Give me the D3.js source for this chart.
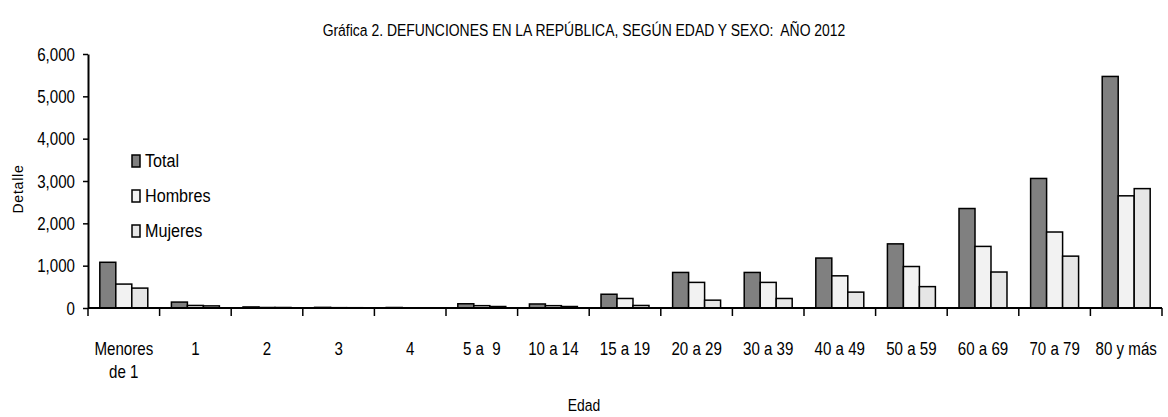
<!DOCTYPE html>
<html>
<head>
<meta charset="utf-8">
<script src="https://cdn.jsdelivr.net/npm/d3@7"></script>
<style>
  html, body { margin: 0; padding: 0; background: #fff; }
  svg { display: block; }
  text { font-family: "Liberation Sans Narrow", "Arial Narrow", "Liberation Sans", Arial, sans-serif; fill: #000; }
</style>
</head>
<body>
<svg id="chart" width="1168" height="417"></svg>
<script>
const categories = ["Menores de 1", "1", "2", "3", "4", "5 a  9", "10 a 14", "15 a 19", "20 a 29", "30 a 39", "40 a 49", "50 a 59", "60 a 69", "70 a 79", "80 y más"];
const seriesNames = ["Total", "Hombres", "Mujeres"];
const totalValues   = [1080, 140, 25, 15, 12, 100, 95, 325, 840, 840, 1180, 1515, 2350, 3060, 5470];
const hombresValues = [565, 60, 12, 8, 6, 55, 55, 225, 605, 605, 760, 980, 1455, 1795, 2650];
const mujeresValues = [470, 50, 12, 7, 6, 35, 35, 60, 185, 225, 375, 505, 850, 1225, 2820];
const yTicks = [0, 1000, 2000, 3000, 4000, 5000, 6000];
const colors = { "Total": "#808080", "Hombres": "#f2f2f2", "Mujeres": "#e6e6e6" };

const valuesBySeries = { "Total": totalValues, "Hombres": hombresValues, "Mujeres": mujeresValues };

const svg = d3.select("#chart");
const mLeft = 88, mRight = 1162, mTop = 54, mBottom = 308;
const SX = 0.83; // horizontal condensing to imitate a narrow font

const x0 = d3.scaleBand().domain(categories).range([mLeft, mRight]).padding(0);
const bw = x0.bandwidth();
const x1 = d3.scaleBand().domain(seriesNames).range([bw * 0.165, bw * 0.835]).padding(0);
const y = d3.scaleLinear().domain([0, 6000]).range([mBottom, mTop]);

function narrowText(parent, x, yy, str, size, anchor, sx) {
  return parent.append("text")
    .attr("transform", `translate(${x},${yy}) scale(${sx},1)`)
    .attr("text-anchor", anchor)
    .style("font-size", size + "px")
    .style("white-space", "pre")
    .text(str);
}

// Title
narrowText(svg, 584, 36, "Gráfica 2. DEFUNCIONES EN LA REPÚBLICA, SEGÚN EDAD Y SEXO:  AÑO 2012", 17, "middle", 0.82);

// Bars
const groups = svg.append("g").selectAll("g")
  .data(categories)
  .join("g")
  .attr("transform", d => `translate(${x0(d)},0)`);

groups.selectAll("rect")
  .data((c, i) => seriesNames.map(s => ({ s, v: valuesBySeries[s][i] })))
  .join("rect")
  .attr("x", d => x1(d.s))
  .attr("width", x1.bandwidth())
  .attr("y", d => y(d.v))
  .attr("height", d => y(0) - y(d.v))
  .attr("fill", d => colors[d.s])
  .attr("stroke", "#000")
  .attr("stroke-width", 1.5);

// Y axis
const yAxis = d3.axisLeft(y).tickValues(yTicks).tickFormat(d3.format(",")).tickSize(5).tickSizeOuter(0).tickPadding(8);
const gy = svg.append("g").attr("transform", `translate(${mLeft},0)`).call(yAxis);
gy.attr("font-family", null).attr("font-size", null);
gy.select(".domain").attr("stroke", "#000").attr("stroke-width", 2);
gy.selectAll(".tick line").attr("stroke", "#000").attr("stroke-width", 1.5);
gy.selectAll(".tick text")
  .attr("x", 0)
  .attr("dy", "0.35em")
  .attr("transform", `translate(-13,0) scale(${SX + 0.01},1)`)
  .style("font-size", "18px");

// X axis baseline + boundary ticks
const gx = svg.append("g");
gx.append("line").attr("x1", mLeft).attr("x2", mRight).attr("y1", y(0)).attr("y2", y(0))
  .attr("stroke", "#000").attr("stroke-width", 2);
const boundaries = categories.map(c => x0(c)).concat([x0(categories[categories.length - 1]) + bw]);
gx.selectAll("line.bt").data(boundaries).join("line").attr("class", "bt")
  .attr("x1", d => d).attr("x2", d => d)
  .attr("y1", y(0)).attr("y2", y(0) + 8)
  .attr("stroke", "#000").attr("stroke-width", 1.5);

// X labels
categories.forEach(c => {
  const cx = x0(c) + bw / 2;
  if (c === "Menores de 1") {
    narrowText(gx, cx, 355, "Menores", 18, "middle", SX + 0.01);
    narrowText(gx, cx, 378, "de 1", 18, "middle", SX + 0.01);
  } else {
    narrowText(gx, cx, 355, c, 18, "middle", SX + 0.01);
  }
});

// Axis titles
narrowText(svg, 584, 411, "Edad", 17, "middle", 0.82);
svg.append("text")
  .attr("transform", "translate(23,189) rotate(-90)")
  .attr("text-anchor", "middle")
  .style("font-family", "'Liberation Sans', Arial, sans-serif")
  .style("font-size", "14px")
  .style("letter-spacing", "0.8px")
  .text("Detalle");

// Legend
const legend = svg.append("g").selectAll("g").data(seriesNames).join("g")
  .attr("transform", (d, i) => `translate(132,${155 + i * 35})`);
legend.append("rect").attr("width", 8).attr("height", 12)
  .attr("fill", d => colors[d]).attr("stroke", "#000").attr("stroke-width", 1.5);
legend.each(function(d) {
  narrowText(d3.select(this), 13, 12, d, 19, "start", 0.85);
});
</script>
</body>
</html>
